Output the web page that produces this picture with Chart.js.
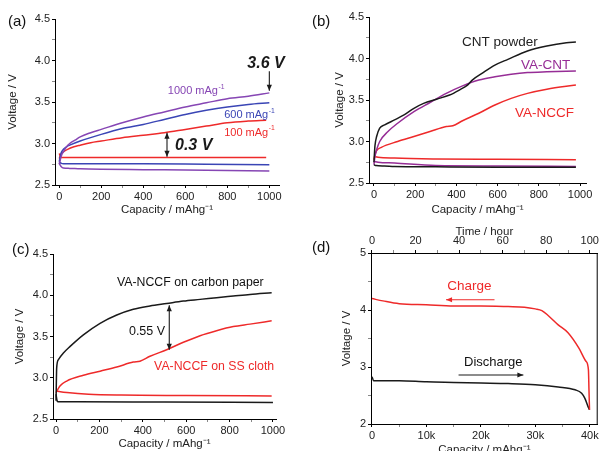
<!DOCTYPE html>
<html><head><meta charset="utf-8">
<script src="https://cdn.jsdelivr.net/npm/chart.js"></script>
<style>
body{margin:0;background:#fff;width:601px;height:451px;position:relative;overflow:hidden;font-family:'Liberation Sans',Arial,sans-serif}
canvas{position:absolute}
.tag{position:absolute;font-size:15px;color:#111;line-height:15px}
</style></head><body>
<canvas id="ca" width="300" height="225" style="left:0;top:0"></canvas>
<canvas id="cb" width="301" height="225" style="left:300px;top:0"></canvas>
<canvas id="cc" width="300" height="226" style="left:0;top:225px"></canvas>
<canvas id="cd" width="301" height="226" style="left:300px;top:225px"></canvas>
<div class="tag" style="left:8px;top:13px">(a)</div>
<div class="tag" style="left:312px;top:13px">(b)</div>
<div class="tag" style="left:12px;top:241px">(c)</div>
<div class="tag" style="left:312px;top:239px">(d)</div>
<script>
// tick values
const tickCap=[0,100,200,300,400,500,600,700,800,900,1000];
const tickV=[2.5,2.75,3,3.25,3.5,3.75,4,4.25,4.5];
const tickCapD=[0,5000,10000,15000,20000,25000,30000,35000,40000];
const tickTimeD=[0,10,20,30,40,50,60,70,80,90,100];
const tickVD=[2,2.5,3,3.5,4,4.5,5];

// (a) rate test, capacity in mAh/g, voltage in V
const capA_1000c=[0,5,10,20,35,50,75,100,150,200,300,400,500,600,700,800,900,1000];
const vA_1000c=[2.75,2.80,2.85,2.90,2.96,3.00,3.04,3.08,3.13,3.17,3.25,3.32,3.38,3.44,3.49,3.54,3.57,3.61];
const capA_1000d=[0,10,20,50,100,200,400,600,800,1000];
const vA_1000d=[2.76,2.72,2.705,2.70,2.695,2.69,2.685,2.68,2.675,2.67];
const capA_600c=[0,5,10,20,35,50,100,200,300,400,500,600,700,800,900,1000];
const vA_600c=[2.78,2.84,2.89,2.93,2.96,2.98,3.03,3.11,3.18,3.23,3.29,3.35,3.40,3.44,3.47,3.49];
const capA_600d=[0,10,20,100,400,700,1000];
const vA_600d=[2.78,2.76,2.755,2.755,2.755,2.75,2.745];
const capA_100c=[0,5,10,20,40,70,100,150,200,300,400,500,600,700,800,900,985];
const vA_100c=[2.82,2.85,2.88,2.90,2.93,2.96,2.98,3.01,3.03,3.07,3.10,3.13,3.17,3.21,3.25,3.27,3.28];
const capA_100d=[0,5,10,50,200,400,600,800,985];
const vA_100d=[2.88,2.85,2.83,2.83,2.83,2.83,2.83,2.83,2.83];

// (b) electrode comparison
const capB_cnt=[0,5,13,28,52,100,146,194,241,304,367,414,454,477,524,587,650,745,839,934,980];
const vB_cnt=[2.75,2.95,3.06,3.16,3.20,3.26,3.32,3.40,3.46,3.51,3.56,3.62,3.68,3.74,3.82,3.92,3.99,4.09,4.15,4.19,4.20];
const capB_cntD=[0,10,50,100,300,600,980];
const vB_cntD=[2.72,2.71,2.705,2.70,2.695,2.69,2.69];
const capB_va=[0,5,13,28,68,115,194,272,351,430,509,587,666,745,839,980];
const vB_va=[2.72,2.82,2.90,3.00,3.12,3.22,3.36,3.47,3.58,3.67,3.74,3.78,3.81,3.83,3.84,3.85];
const capB_vaD=[0,20,100,300,600,980];
const vB_vaD=[2.76,2.75,2.74,2.71,2.705,2.70];
const capB_nccf=[0,5,13,36,115,194,272,351,383,430,509,587,666,745,839,980];
const vB_nccf=[2.78,2.84,2.89,2.93,3.00,3.06,3.12,3.18,3.19,3.25,3.34,3.44,3.52,3.58,3.63,3.68];
const capB_nccfD=[0,20,100,300,600,980];
const vB_nccfD=[2.82,2.81,2.80,2.79,2.785,2.78];

// (c) substrate comparison
const capC_cp=[0,3,11,34,65,126,203,280,356,433,510,587,664,740,817,894,994];
const vC_cp=[2.72,3.12,3.22,3.30,3.38,3.52,3.66,3.76,3.83,3.87,3.90,3.93,3.95,3.97,3.99,4.01,4.03];
const capC_cpD=[0,5,10,100,500,1000];
const vC_cpD=[2.80,2.72,2.71,2.71,2.705,2.70];
const capC_ss=[0,18,49,126,203,280,356,387,433,510,587,664,740,817,894,994];
const vC_ss=[2.82,2.90,2.96,3.03,3.08,3.13,3.19,3.20,3.26,3.34,3.43,3.51,3.57,3.62,3.65,3.69];
const capC_ssD=[0,20,50,150,300,600,994];
const vC_ssD=[2.84,2.83,2.82,2.80,2.79,2.785,2.78];

// (d) full discharge / charge
const capD_ch=[0,2000,5000,10000,15000,20000,25000,28000,30000,31200,32400,34200,36000,38000,39300,39750,39850,39950];
const vD_ch=[4.20,4.16,4.11,4.09,4.07,4.07,4.06,4.05,4.02,3.99,3.90,3.74,3.60,3.33,3.10,2.95,2.60,2.25];
const capD_dis=[0,300,5000,10000,15000,20000,25000,30000,34200,37300,38500,39100,39700,39950];
const vD_dis=[2.83,2.76,2.76,2.74,2.73,2.72,2.71,2.69,2.65,2.60,2.54,2.45,2.30,2.25];

const PURPLE='#8646b4',BLUE='#3a45b5',RED='#ee2a2a',MAG='#962d96',BLK='#1a1a1a';
Chart.defaults.font.family="'Liberation Sans', Arial, sans-serif";
Chart.defaults.color='#222';

function pts(xs,ys){return xs.map((x,i)=>({x,y:ys[i]}));}
function line(xs,ys,color){
  return {data:pts(xs,ys),borderColor:color,borderWidth:1.5,pointRadius:0,
    cubicInterpolationMode:'monotone',fill:false};
}
const half=v=>Math.abs(v*2-Math.round(v*2))<1e-6;
function axis(o,horiz){
  const a={type:'linear',min:o.min,max:o.max,
    afterBuildTicks:s=>{s.ticks=o.ticks.map(value=>({value}))},
    border:{color:'#000',width:1},
    grid:{drawOnChartArea:false,tickLength:3,tickColor:c=>o.fmt(c.tick.value)===''?'#888':'#000'},
    ticks:{autoSkip:false,maxRotation:0,padding:2,font:{size:11},callback:o.fmt},
    title:{display:true,text:o.text,font:{size:11.5,lineHeight:1.2},padding:o.tp}};
  if(horiz){a.position=o.pos||'bottom';a.afterFit=s=>{s.height=o.h};}
  else a.afterFit=s=>{s.width=o.w};
  return a;
}
const fmtCap=v=>Math.round(v)%200===0?String(Math.round(v)):'';
const fmtV=v=>half(v)?v.toFixed(1):'';
const capTitle='Capacity / mAhg⁻¹';

function notes(items){
  return {id:'notes',afterDatasetsDraw(c){
    const g=c.ctx,X=c.scales.x,Y=c.scales.y;
    const fam="'Liberation Sans', Arial, sans-serif";
    g.save();
    items.forEach(n=>{
      g.strokeStyle=g.fillStyle=n.c||BLK;
      if(n.arrow){
        const [a,b,d,e]=n.arrow;
        const x1=X.getPixelForValue(a),y1=Y.getPixelForValue(b),x2=X.getPixelForValue(d),y2=Y.getPixelForValue(e);
        g.lineWidth=1.1;g.beginPath();g.moveTo(x1,y1);g.lineTo(x2,y2);g.stroke();
        const head=(hx,hy,fx,fy)=>{const ang=Math.atan2(hy-fy,hx-fx);
          g.beginPath();g.moveTo(hx,hy);
          g.lineTo(hx-6*Math.cos(ang)+2.6*Math.sin(ang),hy-6*Math.sin(ang)-2.6*Math.cos(ang));
          g.lineTo(hx-6*Math.cos(ang)-2.6*Math.sin(ang),hy-6*Math.sin(ang)+2.6*Math.cos(ang));
          g.closePath();g.fill();};
        head(x2,y2,x1,y1);
        if(n.both)head(x1,y1,x2,y2);
        return;
      }
      const px=X.getPixelForValue(n.x),py=Y.getPixelForValue(n.y);
      const mf=(n.italic?'italic ':'')+(n.bold?'bold ':'')+n.size+'px '+fam;
      const sf=(n.size*0.62)+'px '+fam;
      g.font=mf;g.textBaseline='middle';g.textAlign='left';
      const w=g.measureText(n.t).width;
      let sw=0;
      if(n.sup){g.font=sf;sw=g.measureText(n.sup).width;g.font=mf;}
      const x0=n.align==='center'?px-(w+sw)/2:px;
      g.fillText(n.t,x0,py);
      if(n.sup){g.font=sf;g.fillText(n.sup,x0+w+0.5,py-n.size*0.38);}
    });
    g.restore();
  }};
}
const frame={id:'frame',afterDraw(c){const a=c.chartArea,g=c.ctx;g.save();g.strokeStyle='#000';g.lineWidth=1;
  g.beginPath();g.moveTo(a.right-0.5,a.top);g.lineTo(a.right-0.5,a.bottom);g.stroke();g.restore();}};

function make(id,datasets,scales,pad,plugins){
  return new Chart(document.getElementById(id),{type:'line',data:{datasets},
    options:{responsive:false,animation:false,events:[],
      layout:{padding:pad},
      plugins:{legend:{display:false},tooltip:{enabled:false}},
      scales},plugins});
}

make('ca',[
  line(capA_1000c,vA_1000c,PURPLE),line(capA_1000d,vA_1000d,PURPLE),
  line(capA_600c,vA_600c,BLUE),line(capA_600d,vA_600d,BLUE),
  line(capA_100c,vA_100c,RED),line(capA_100d,vA_100d,RED)],
  {x:axis({min:-20,max:1046,ticks:tickCap,h:40,fmt:fmtCap,text:capTitle,tp:{top:0,bottom:8}},true),
   y:axis({min:2.5,max:4.5,ticks:tickV,w:55,fmt:fmtV,text:'Voltage / V',tp:{top:6,bottom:0}})},
  {top:19,right:21,left:0,bottom:0},
  [notes([
    {t:'3.6 V',x:984,y:3.96,size:16,bold:true,italic:true,align:'center'},
    {arrow:[1000,3.87,1000,3.635]},
    {t:'1000 mAg',sup:'-1',x:517,y:3.63,c:PURPLE,size:11},
    {t:'600 mAg',sup:'-1',x:785,y:3.34,c:BLUE,size:11},
    {t:'100 mAg',sup:'-1',x:785,y:3.13,c:RED,size:11},
    {t:'0.3 V',x:551,y:2.97,size:16,bold:true,italic:true},
    {arrow:[513,3.13,513,2.84],both:true}])]);

make('cb',[
  line(capB_cnt,vB_cnt,BLK),line(capB_cntD,vB_cntD,BLK),
  line(capB_va,vB_va,MAG),line(capB_vaD,vB_vaD,MAG),
  line(capB_nccf,vB_nccf,RED),line(capB_nccfD,vB_nccfD,RED)],
  {x:axis({min:-24,max:1029,ticks:tickCap,h:42,fmt:fmtCap,text:capTitle,tp:{top:0,bottom:8}},true),
   y:axis({min:2.5,max:4.5,ticks:tickV,w:69,fmt:fmtV,text:'Voltage / V',tp:{top:33,bottom:0}})},
  {top:17,right:15,left:0,bottom:0},
  [notes([
    {t:'CNT powder',x:427,y:4.20,c:'#222',size:13.5},
    {t:'VA-CNT',x:714,y:3.92,c:MAG,size:13.5},
    {t:'VA-NCCF',x:684,y:3.34,c:RED,size:13.5}])]);

make('cc',[
  line(capC_cp,vC_cp,BLK),line(capC_cpD,vC_cpD,BLK),
  line(capC_ss,vC_ss,RED),line(capC_ssD,vC_ssD,RED)],
  {x:axis({min:-14,max:1014,ticks:tickCap,h:32,fmt:fmtCap,text:capTitle,tp:{top:0,bottom:0}},true),
   y:axis({min:2.5,max:4.5,ticks:tickV,w:53,fmt:fmtV,text:'Voltage / V',tp:{top:13,bottom:0}})},
  {top:29,right:24,left:0,bottom:0},
  [notes([
    {t:'VA-NCCF on carbon paper',x:281,y:4.15,c:'#111',size:12.3},
    {t:'0.55 V',x:336,y:3.56,c:'#111',size:12.5},
    {arrow:[522,3.88,522,3.34],both:true},
    {t:'VA-NCCF on SS cloth',x:452,y:3.13,c:RED,size:12.3}])]);

const dMin=-182,dMax=41455;
make('cd',[line(capD_ch,vD_ch,RED),line(capD_dis,vD_dis,BLK)],
  {x:axis({min:dMin,max:dMax,ticks:tickCapD,h:27,text:capTitle,tp:{top:0,bottom:-6},
      fmt:v=>Math.round(v)%10000===0?(v===0?'0':Math.round(v/1000)+'k'):''},true),
   x2:axis({min:dMin/400,max:dMax/400,ticks:tickTimeD,h:28,pos:'top',text:'Time / hour',tp:{top:0,bottom:0},
      fmt:v=>Math.round(v)%20===0?String(Math.round(v)):''},true),
   y:axis({min:2,max:5,ticks:tickVD,w:71,text:'Voltage / V',tp:{top:40,bottom:0},
      fmt:v=>Math.abs(v-Math.round(v))<1e-6?String(Math.round(v)):''})},
  {top:0,right:1,left:0,bottom:0},
  [frame,notes([
    {t:'Charge',x:13800,y:4.41,c:RED,size:13.5},
    {arrow:[22500,4.18,13600,4.18],c:RED},
    {t:'Discharge',x:16900,y:3.08,c:'#111',size:13},
    {arrow:[15900,2.86,27800,2.86]}])]);
</script>
</body></html>
